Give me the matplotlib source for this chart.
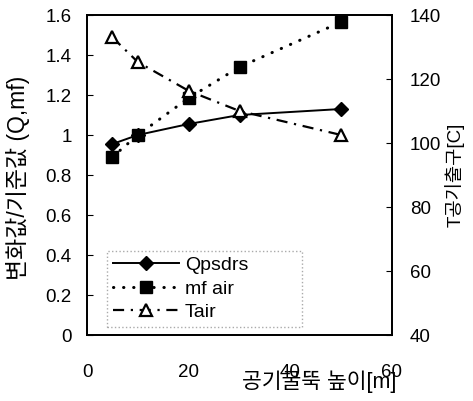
import numpy as np
import matplotlib.pyplot as plt
from matplotlib.ticker import FormatStrFormatter
from matplotlib.lines import Line2D

plt.rcParams['font.family'] = ['Liberation Sans', 'Noto Sans CJK KR', 'DejaVu Sans']

# chimney height [m]
height = [5, 10, 20, 30, 50]
# ratios to the reference case
q_psdrs = [0.955, 1.0, 1.055, 1.10, 1.13]
mf_air = [0.89, 1.0, 1.185, 1.34, 1.565]
# air outlet temperature [C]
t_air = [133, 125.3, 116.3, 110, 102.5]

x_ticks = [0, 20, 40, 60]
left_ticks = [0, 0.2, 0.4, 0.6, 0.8, 1.0, 1.2, 1.4, 1.6]
right_ticks = [40, 60, 80, 100, 120, 140]

fig = plt.figure(figsize=(4.73, 4.01), dpi=100)
ax = fig.add_axes([87 / 473, 1 - 335 / 401, 305 / 473, 320 / 401])
ax2 = ax.twinx()

ax.plot(height, q_psdrs, color='black', lw=1.4, marker='D', ms=7,
        label='Qpsdrs')
ax.plot(height, mf_air, color='black', lw=2.2, linestyle=(0, (0.1, 3.2)),
        dash_capstyle='round', marker='s', ms=9, label='mf air')
ax2.plot(height, t_air, color='black', lw=1.6,
         linestyle=(0, (5, 3, 1, 3)), marker='^', ms=8,
         markerfacecolor='white', markeredgewidth=1.6, label='Tair')

ax.set_xlim(0, 60)
ax.set_ylim(0, 1.6)
ax2.set_ylim(40, 140)
ax.set_xticks(x_ticks)
ax.set_yticks(left_ticks)
ax2.set_yticks(right_ticks)
ax.yaxis.set_major_formatter(FormatStrFormatter('%g'))

ax.tick_params(axis='y', direction='in', length=4, labelsize=13.5, pad=11)
ax.tick_params(axis='x', direction='in', length=0, labelsize=13.5, pad=21)
ax2.tick_params(axis='y', direction='in', length=4, labelsize=13.5, pad=13)
for a in (ax, ax2):
    for s in a.spines.values():
        s.set_linewidth(1.3)

ax.set_xlabel('공기굴뚝 높이[m]', fontsize=15.5, va='center')
ax.xaxis.set_label_coords(0.76, -0.146)
ax.set_ylabel('변화값/기준값 (Q,mf)', fontsize=16.5, va='center')
ax.yaxis.set_label_coords(-0.226, 0.49)
ax2.set_ylabel('T공기출구[C]', fontsize=13.5, va='center')
ax2.yaxis.set_label_coords(1.207, 0.5)

handles = [
    Line2D([], [], color='black', lw=1.4, marker='D', ms=7),
    Line2D([], [], color='black', lw=2.2, linestyle=(0, (0.1, 3.2)),
           dash_capstyle='round', marker='s', ms=9),
    Line2D([], [], color='black', lw=1.6, linestyle=(0, (5, 3, 1, 3)),
           marker='^', ms=8, markerfacecolor='white', markeredgewidth=1.6),
]
leg = ax2.legend(handles, ['Qpsdrs', 'mf air', 'Tair'], loc='lower left',
                 bbox_to_anchor=(0.066, 0.025, 0.64, 0.23), mode='expand',
                 borderaxespad=0, fontsize=14, handlelength=3.4,
                 handletextpad=0.3, labelspacing=0.3, borderpad=0.3,
                 fancybox=False, framealpha=1)
leg.get_frame().set_edgecolor('#aaaaaa')
leg.get_frame().set_linestyle(':')
leg.get_frame().set_linewidth(1.0)

fig.savefig('out.png', dpi=100)
